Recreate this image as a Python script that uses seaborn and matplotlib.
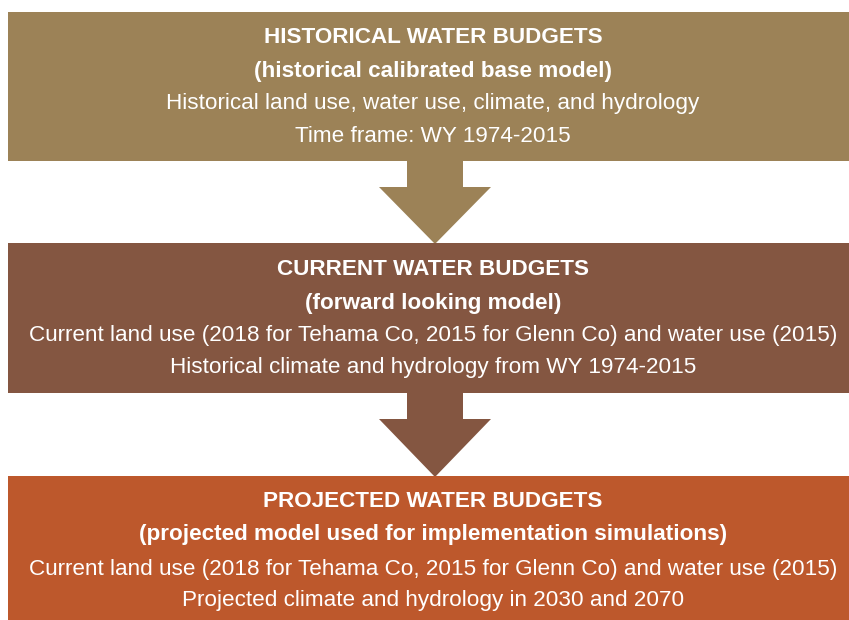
import matplotlib
matplotlib.use("Agg")
import matplotlib.pyplot as plt
import seaborn as sns
from matplotlib.patches import Rectangle, Polygon

# =====================================================
# DATA
# =====================================================

titles = [
    "HISTORICAL WATER BUDGETS",
    "CURRENT WATER BUDGETS",
    "PROJECTED WATER BUDGETS",
]

subtitles = [
    "(historical calibrated base model)",
    "(forward looking model)",
    "(projected model used for implementation simulations)",
]

details = [
    ["Historical land use, water use, climate, and hydrology",
     "Time frame: WY 1974-2015"],
    ["Current land use (2018 for Tehama Co, 2015 for Glenn Co) and water use (2015)",
     "Historical climate and hydrology from WY 1974-2015"],
    ["Current land use (2018 for Tehama Co, 2015 for Glenn Co) and water use (2015)",
     "Projected climate and hydrology in 2030 and 2070"],
]

box_colors = ["#9C8257", "#845641", "#BD582C"]

# =====================================================
# LAYOUT (pixel space)
# =====================================================

box_tops = [12, 243, 476]
box_bottoms = [161, 393, 625]
baselines = [
    [43, 77, 109, 142],
    [275, 309, 341, 373],
    [507, 540, 575, 606],
]
x_left, x_right = 8, 855
x_mid = 433

sns.set_theme(style="white")
plt.rcParams["font.family"] = ["Liberation Sans", "DejaVu Sans"]

fig = plt.figure(figsize=(8.49, 6.2), dpi=100)
ax = fig.add_axes([0, 0, 1, 1])
ax.set_xlim(0, 849)
ax.set_ylim(620, 0)
ax.axis("off")

for i in range(3):
    ax.add_patch(Rectangle(
        (x_left, box_tops[i]),
        x_right - x_left,
        box_bottoms[i] - box_tops[i],
        facecolor=box_colors[i],
        edgecolor="none"
    ))

    lines = [titles[i], subtitles[i]] + details[i]
    for j, line in enumerate(lines):
        ax.text(
            x_mid, baselines[i][j], line,
            ha="center", va="baseline",
            color="white",
            fontsize=16.2,
            fontweight="bold" if j < 2 else "normal"
        )

    # arrow down to the next box
    if i < 2:
        top = box_bottoms[i]
        bottom = box_tops[i + 1]
        stem_w = 56
        head_w = 112
        head_start = top + 26
        ax.add_patch(Polygon([
            (x_mid + 2 - stem_w / 2, top),
            (x_mid + 2 + stem_w / 2, top),
            (x_mid + 2 + stem_w / 2, head_start),
            (x_mid + 2 + head_w / 2, head_start),
            (x_mid + 2, bottom + 1),
            (x_mid + 2 - head_w / 2, head_start),
            (x_mid + 2 - stem_w / 2, head_start),
        ], closed=True, facecolor=box_colors[i], edgecolor="none"))

fig.savefig("out.png", dpi=100)
